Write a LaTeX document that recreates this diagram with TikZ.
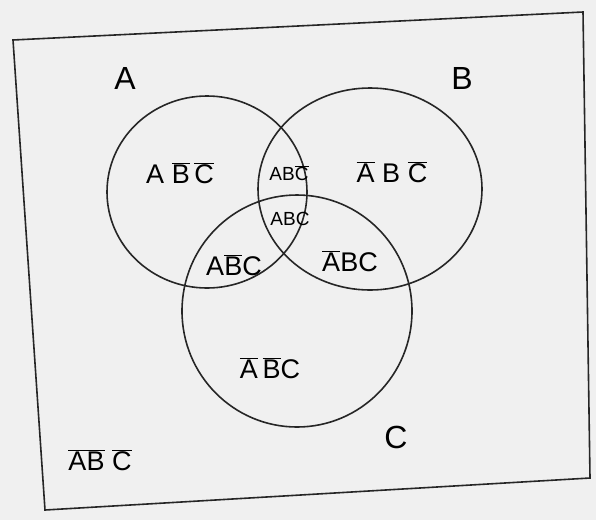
\documentclass[tikz,border=0pt]{standalone}
\usepackage{fontspec}
\setmainfont{Liberation Sans}
\newcommand{\olx}[1]{$\overline{\mbox{#1}}$}
\begin{document}
\begin{tikzpicture}[x=1pt,y=-1pt,
  pen/.style={draw=black!85,line width=1.6pt},
  big/.style={font=\fontsize{32}{36}\selectfont},
  mid/.style={font=\fontsize{27}{31}\selectfont},
  small/.style={font=\fontsize{19}{22}\selectfont}]
\fill[gray!12] (0,0) rectangle (596,520);
\useasboundingbox (0,0) rectangle (596,520);
\draw[pen] (13,40) -- (583,12) -- (590,478) -- (45,510) -- cycle;
\draw[pen] (207,192) ellipse [x radius=100, y radius=96];
\draw[pen] (370,189) ellipse [x radius=112, y radius=101];
\draw[pen] (297,311) ellipse [x radius=115, y radius=116];
\node[big] (la) at (125,78) {A};
\node[big] (lb) at (462,78) {B};
\node[big] (lc) at (396,437) {C};
\node[mid] (r1) at (180,173) {A \olx{B}\,\olx{C}};
\node[small] (r2) at (289,173) {AB\olx{C}};
\node[mid] (r3) at (392,172) {\olx{A} B \olx{C}};
\node[small] (r4) at (290,219) {ABC};
\node[mid] (r5) at (234,265) {A\olx{B}C};
\node[mid] (r6) at (350,261) {\olx{A}BC};
\node[mid] (r7) at (270,368) {\olx{A}\,\olx{B}C};
\node[mid] (r8) at (100,460) {\olx{A}\olx{B} \olx{C}};
\end{tikzpicture}
\end{document}
